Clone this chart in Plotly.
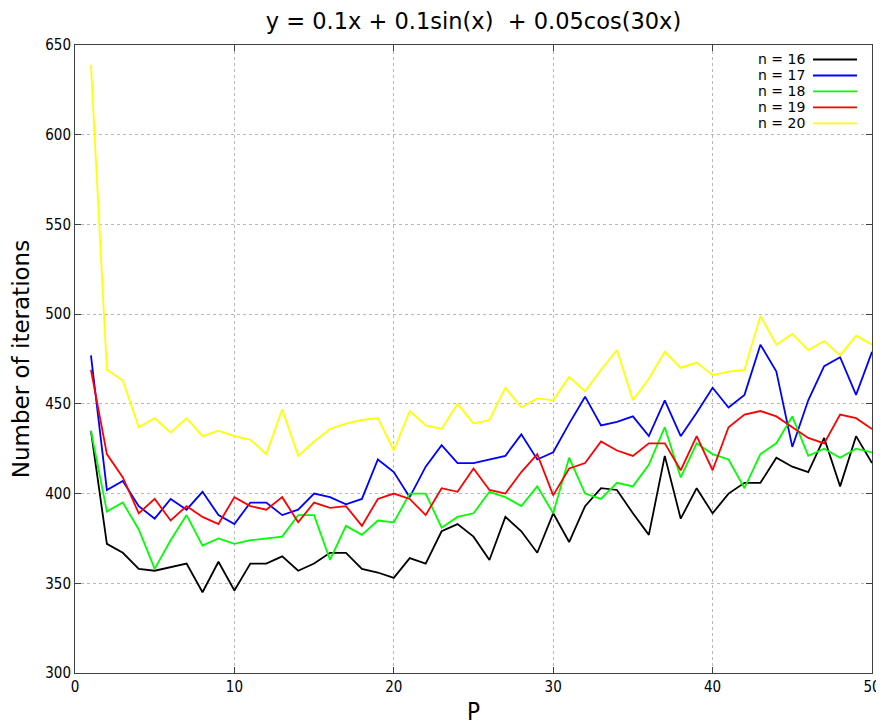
import plotly.graph_objects as go

P = list(range(1, 51))

n16 = [435, 372, 367, 358, 357, 359, 361, 345, 362, 346,
       361, 361, 365, 357, 361, 367, 367, 358, 356, 353,
       364, 361, 379, 383, 376, 363, 387, 379, 367, 389,
       373, 393, 403, 402, 389, 377, 421, 386, 403, 389,
       400, 406, 406, 420, 415, 412, 431, 404, 432, 417]
n17 = [477, 402, 407, 393, 386, 397, 391, 401, 388, 383,
       395, 395, 388, 391, 400, 398, 394, 397, 419, 412,
       398, 415, 427, 417, 417, 419, 421, 433, 419, 423,
       439, 454, 438, 440, 443, 432, 452, 432, 445, 459,
       448, 455, 483, 468, 426, 452, 471, 476, 455, 479]
n18 = [435, 390, 395, 380, 358, 374, 388, 371, 375, 372,
       374, 375, 376, 388, 388, 363, 382, 377, 385, 384,
       400, 400, 381, 387, 389, 401, 398, 393, 404, 389,
       420, 400, 397, 406, 404, 416, 437, 409, 428, 422,
       419, 403, 422, 428, 443, 421, 425, 420, 425, 423]
n19 = [469, 422, 409, 389, 397, 385, 393, 387, 383, 398,
       393, 391, 398, 384, 395, 392, 393, 382, 397, 400,
       397, 388, 403, 401, 414, 402, 400, 412, 422, 399,
       414, 417, 429, 424, 421, 428, 428, 413, 432, 413,
       437, 444, 446, 443, 437, 431, 428, 444, 442, 436]
n20 = [639, 469, 463, 437, 442, 434, 442, 432, 435, 432,
       430, 422, 447, 421, 429, 436, 439, 441, 442, 424,
       446, 438, 436, 450, 439, 441, 459, 448, 453, 452,
       465, 457, 469, 480, 452, 464, 479, 470, 473, 466,
       468, 469, 499, 483, 489, 480, 485, 477, 488, 483]

labels = ["n = 16", "n = 17", "n = 18", "n = 19", "n = 20"]
series = [n16, n17, n18, n19, n20]
colors = ["#000000", "#0000ff", "#00ff00", "#ff0000", "#ffff00"]

fig = go.Figure()
for lab, ys, c in zip(labels, series, colors):
    fig.add_trace(go.Scatter(x=P, y=ys, mode="lines", name=lab,
                             line=dict(color=c, width=1.8), showlegend=False))

# page has an 8px body margin; target page-pixel layout below
OFF = 8
FW, FH = 884 - OFF, 726 - OFF
L, R, T, B = 75 - OFF, 872 - OFF, 44.5 - OFF, 673 - OFF
W, H = R - L, B - T
def px(xp):
    return (xp - OFF - L) / W
def py(yp):
    return (B - (yp - OFF)) / H

FONT = "DejaVu Sans Condensed, DejaVu Sans"

# manual gnuplot-style legend (text left, sample line right)
row_y = [59, 75, 91, 107, 123]
for lab, c, ry in zip(labels, colors, row_y):
    fig.add_annotation(x=px(807), y=py(ry), xref="paper", yref="paper",
                       text=lab, showarrow=False, xanchor="right", yanchor="middle",
                       font=dict(family="DejaVu Sans", size=14, color="#000000"))
    fig.add_shape(type="line", xref="paper", yref="paper",
                  x0=px(813), x1=px(857), y0=py(ry), y1=py(ry),
                  line=dict(color=c, width=1.8))

grid = dict(showgrid=True, gridcolor="#b8b8b8", griddash="dot", gridwidth=1,
            showline=True, linecolor="#404040", linewidth=1, mirror="ticks",
            ticks="inside", ticklen=6, tickcolor="#404040", zeroline=False,
            automargin=False,
            tickfont=dict(family=FONT, size=15, color="#000000"))

fig.update_layout(
    width=FW, height=FH,
    paper_bgcolor="white", plot_bgcolor="white",
    margin=dict(l=L, r=FW - R, t=T, b=FH - B, autoexpand=False),
    title=dict(text="y = 0.1x + 0.1sin(x)  + 0.05cos(30x)", x=px(473.5), xanchor="center",
               xref="paper", y=1 - (21 - OFF) / FH, yanchor="middle",
               font=dict(family="DejaVu Sans", size=22.5, color="#000000")),
    xaxis=dict(range=[0, 50], tickvals=[0, 10, 20, 30, 40, 50],
               title=dict(text="P", font=dict(family=FONT, size=24, color="#000000"),
                          standoff=8),
               **grid),
    yaxis=dict(range=[300, 650], tickvals=[300, 350, 400, 450, 500, 550, 600, 650],
               title=dict(text="Number of iterations",
                          font=dict(family="DejaVu Sans", size=23, color="#000000"),
                          standoff=10),
               **grid),
)

fig.write_html("out.html")
